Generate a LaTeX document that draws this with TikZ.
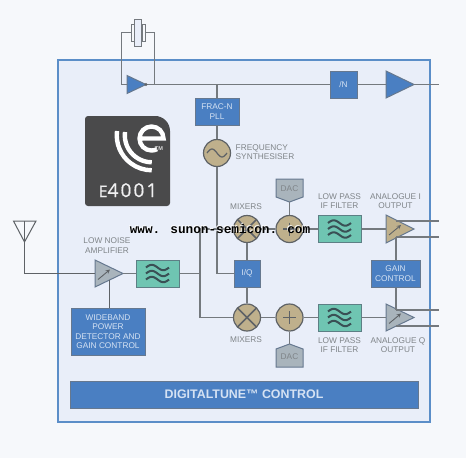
\documentclass[tikz,border=0pt]{standalone}
\usepackage{fontspec}
\setmainfont{Liberation Sans}
\newfontfamily\logofont[LetterSpace=11,FakeBold=0.6]{Open Sans}
\newfontfamily\markfont{Liberation Mono}
\usetikzlibrary{calc}
\definecolor{pagebg}{HTML}{F6F8FB}
\definecolor{panelbg}{HTML}{E9EEF9}
\definecolor{panelline}{HTML}{5B8EC8}
\definecolor{bluebox}{HTML}{4A7FC2}
\definecolor{boxedge}{HTML}{66788F}
\definecolor{boxtext}{HTML}{D5E2F3}
\definecolor{tealbox}{HTML}{6FC5B2}
\definecolor{tealedge}{HTML}{5D7F85}
\definecolor{tan}{HTML}{BFB08C}
\definecolor{grayamp}{HTML}{A9B4BC}
\definecolor{wire}{HTML}{74797E}
\definecolor{wiredark}{HTML}{5E6266}
\definecolor{inkdark}{HTML}{3A5055}
\definecolor{labelgray}{HTML}{7F8488}
\definecolor{logobg}{HTML}{4A4A4B}
\tikzset{
  x=1pt,y=-1pt,
  conn/.style={draw=wire,line width=1.2pt},
  slimconn/.style={draw=wire,line width=1.1pt},
  thinconn/.style={draw=wiredark,line width=1pt},
  bluenode/.style={draw=boxedge,line width=1pt,fill=bluebox,text=boxtext,inner sep=0pt,align=center,
    font=\fontsize{8.3}{9.5}\selectfont},
  tealnode/.style={draw=tealedge,line width=1pt,fill=tealbox,minimum width=43pt,minimum height=27pt,inner sep=0pt},
  roundnode/.style={circle,draw=wiredark,line width=1.2pt,fill=tan,minimum size=27pt,inner sep=0pt},
  lab/.style={text=labelgray,inner sep=0pt,align=center,font=\fontsize{8.3}{9.5}\selectfont},
  edgeline/.style={draw=boxedge,line width=1pt},
  inkline/.style={draw=wiredark,line width=1.5pt},
  wave/.style={draw=inkdark,line width=2pt},
  logoline/.style={draw=white,line width=4.4pt},
  pics/amp/.style n args={4}{code={
    \draw[edgeline,fill=#1] (0,-#2) -- (0,#2) -- (#3,0) -- cycle;
    \coordinate (-in) at (0,0);
    \coordinate (-out) at (#3,0);
    #4
  }},
  pics/waves/.style={code={
    \foreach \dy in {-6,0,6}
      \draw[wave] plot[domain=-11.5:11.5,samples=25,smooth] (\x,{\dy-2.7*sin(15.6*(\x+11.5))});
  }},
  pics/gainmark/.style={code={
    \draw[wiredark,line width=.9pt,-stealth] (3,6) -- (15,-4);
  }}
}
\begin{document}
\begin{tikzpicture}
\useasboundingbox (0,0) rectangle (466,458);
\fill[pagebg] (0,0) rectangle (466,458);
\draw[draw=panelline,fill=panelbg,line width=2pt] (58,60) rectangle (430,422);

% routing points
\coordinate (xtop) at (121.5,32.5);
\coordinate (xbot) at (121.5,84.5);
\coordinate (ytop) at (154.5,32.5);
\coordinate (ybot) at (154.5,84.5);
\coordinate (pllt) at (217,84.5);
\coordinate (endtop) at (439,84.5);
\coordinate (splitu) at (200,229);
\coordinate (splitm) at (200,273.5);
\coordinate (splitl) at (200,317.5);
\coordinate (iqcorner) at (217,273.5);
\coordinate (ant) at (24.5,221);
\coordinate (anttip) at (24.5,242);
\coordinate (antl) at (13.5,221);
\coordinate (antr) at (36,221);
\coordinate (antb) at (24.5,273.5);
\coordinate (lnab) at (109,280);
\coordinate (iup) at (396,221);
\coordinate (idn) at (396,237);
\coordinate (qup) at (396,310);
\coordinate (qdn) at (396,326);
\coordinate (iup2) at (439,221);
\coordinate (idn2) at (439,237);
\coordinate (qup2) at (439,310);
\coordinate (qdn2) at (439,326);

% crystal
\node[draw=wire,fill=panelbg,line width=1pt,minimum width=7.5pt,minimum height=27pt,inner sep=0pt] (xtal) at (138,32.5) {};
\node[draw=wire,fill=pagebg,line width=1pt,minimum width=3pt,minimum height=17pt,inner sep=0pt] (xtalL) at (132.5,32.5) {};
\node[draw=wire,fill=pagebg,line width=1pt,minimum width=3pt,minimum height=17pt,inner sep=0pt] (xtalR) at (144,32.5) {};

% blocks
\node[bluenode,minimum width=44pt,minimum height=27pt] (pll) at (217,111.5) {FRAC-N\\PLL};
\node[bluenode,minimum width=27pt,minimum height=27pt] (div) at (343.5,84.5) {/N};
\node[bluenode,minimum width=26pt,minimum height=27pt] (iq) at (247,273.5) {I/Q};
\node[bluenode,minimum width=49pt,minimum height=27pt] (gain) at (395.5,273.5) {GAIN\\CONTROL};
\node[bluenode,minimum width=74pt,minimum height=47pt] (wide) at (108,331.5) {WIDEBAND\\POWER\\DETECTOR AND\\GAIN CONTROL};
\node[bluenode,minimum width=348pt,minimum height=27pt,font=\bfseries\fontsize{12.4}{14}\selectfont,text=boxtext] (dt) at (244,394.5) {DIGITALTUNE™ CONTROL};

\node[tealnode] (f1) at (157.5,273.5) {};
\node[tealnode] (fi) at (339.5,229) {};
\node[tealnode] (fq) at (339.5,317.5) {};
\node[roundnode] (osc) at (217,153) {};
\node[roundnode] (mi) at (247,229) {};
\node[roundnode] (ai) at (289.5,229) {};
\node[roundnode] (mq) at (247,317.5) {};
\node[roundnode] (aq) at (289.5,317.5) {};

% DAC tags
\draw[edgeline,fill=grayamp] (276,179) -- (303,179) -- (303,197) -- (289.5,202) -- (276,197) -- cycle;
\node[text=labelgray,inner sep=0pt,font=\fontsize{8.3}{9.5}\selectfont] (dacu) at (289.5,189) {DAC};
\coordinate (dacu-tip) at (289.5,202);
\draw[edgeline,fill=grayamp] (276,367) -- (303,367) -- (303,349) -- (289.5,344) -- (276,349) -- cycle;
\node[text=labelgray,inner sep=0pt,font=\fontsize{8.3}{9.5}\selectfont] (dacl) at (289.5,357) {DAC};
\coordinate (dacl-tip) at (289.5,344);

% amplifiers
\pic (buf) at (127,84.5) {amp={bluebox}{9}{19}{}};
\pic (outbuf) at (386,84.5) {amp={bluebox}{13.5}{28}{}};
\pic (lna) at (95,273.5) {amp={grayamp}{13.5}{28}{\pic at (0,0) {gainmark};}};
\pic (ampi) at (386,229) {amp={tan}{14}{28}{\pic at (0,0) {gainmark};}};
\pic (ampq) at (386,317.5) {amp={grayamp}{13.5}{28}{\pic at (0,0) {gainmark};}};

% connectors
\draw[slimconn] (xtalL.west |- xtop) -- (xtop) -- (xbot) -- (buf-in);
\draw[slimconn] (xtalR.east |- ytop) -- (ytop) -- (ybot);
\draw[conn] (buf-out) -- (div.west);
\draw[conn] (div.east) -- (outbuf-in);
\draw[conn] (outbuf-out) -- (endtop);
\fill[wiredark] (buf-out) circle (1.6);
\draw[conn] (pllt) -- (pll.north);
\draw[conn] (pll.south) -- (osc.north);
\draw[conn] (osc.south) -- (iqcorner) -- (iq.west);
\draw[conn] (iq.north) -- (mi.south);
\draw[conn] (iq.south) -- (mq.north);
\draw[thinconn] (antb) -- (lna-in);
\draw[thinconn] (ant) -- (antb);
\draw[thinconn] (antl) -- (antr) -- (anttip) -- cycle;
\draw[thinconn] (lnab) -- (wide.north -| lnab);
\draw[slimconn] (lna-out) -- (f1.west);
\draw[slimconn] (f1.east) -- (splitm);
\draw[conn] (splitu) -- (splitl) -- (mq.west);
\draw[conn] (splitu) -- (mi.west);
\draw[conn] (mi.east) -- (ai.west);
\draw[conn] (mq.east) -- (aq.west);
\draw[conn] (ai.east) -- (fi.west);
\draw[conn] (aq.east) -- (fq.west);
\draw[conn] (fi.east) -- (ampi-in);
\draw[conn] (fq.east) -- (ampq-in);
\draw[conn] (dacu-tip) -- (ai.north);
\draw[conn] (dacl-tip) -- (aq.south);
\draw[conn] (iup) -- (iup2);
\draw[conn] (idn) -- (idn2);
\draw[conn] (qup) -- (qup2);
\draw[conn] (qdn) -- (qdn2);
\draw[conn] (idn) -- (gain.north -| idn);
\draw[conn] (gain.south -| qup) -- (qup);

% symbols in blocks
\pic at (157.5,273.5) {waves};
\pic at (339.5,229) {waves};
\pic at (339.5,317.5) {waves};
\draw[draw=wiredark,line width=1.2pt] plot[domain=-10:10,samples=25,smooth] ({217+\x},{153-4*sin(18*(\x+10))});
\draw[inkline] ($(mi)+(-9.5,-9.5)$) -- ($(mi)+(9.5,9.5)$) ($(mi)+(-9.5,9.5)$) -- ($(mi)+(9.5,-9.5)$);
\draw[inkline] ($(mq)+(-9.5,-9.5)$) -- ($(mq)+(9.5,9.5)$) ($(mq)+(-9.5,9.5)$) -- ($(mq)+(9.5,-9.5)$);
\draw[inkline] ($(ai)+(-6.5,0)$) -- ($(ai)+(6.5,0)$) ($(ai)+(0,-6.5)$) -- ($(ai)+(0,6.5)$);
\draw[inkline] ($(aq)+(-6.5,0)$) -- ($(aq)+(6.5,0)$) ($(aq)+(0,-6.5)$) -- ($(aq)+(0,6.5)$);

% labels
\node[lab] (lnalab) at (107,245.5) {LOW NOISE\\AMPLIFIER};
\node[lab,align=left,anchor=west] (synlab) at (235.5,152) {FREQUENCY\\SYNTHESISER};
\node[lab] (mixu) at (246,207) {MIXERS};
\node[lab] (mixl) at (246,340) {MIXERS};
\node[lab] (lpu) at (339.5,201) {LOW PASS\\IF FILTER};
\node[lab] (lpl) at (339.5,345) {LOW PASS\\IF FILTER};
\node[lab] (anau) at (395.5,201) {ANALOGUE I\\OUTPUT};
\node[lab] (anal) at (398,345) {ANALOGUE Q\\OUTPUT};

% logo
\fill[logobg,rounded corners=3pt] (85,206) -- (85,116) -- (155,116) [rounded corners=15pt] -- (170,116) [rounded corners=3pt] -- (170,206) -- cycle;
\draw[logoline] (140,138.5) -- (163.5,138.5) arc[start angle=0,end angle=-180,radius=12] arc[start angle=180,end angle=62,radius=12];
\draw[logoline] (125,132) arc[start angle=187,end angle=90,radius=27];
\draw[logoline] (117,131) arc[start angle=187,end angle=90,radius=35];
\node[text=white!80!logobg,inner sep=0pt,font=\bfseries\fontsize{5.6}{6}\selectfont] (tm) at (159,149) {TM};
\node[text=white!92!logobg,inner sep=0pt,anchor=base] (logotext) at (128,197) {\logofont\fontsize{16}{18}\selectfont E\fontsize{19}{20}\selectfont 4001};

% watermark
\node[text=white,inner sep=0pt,font=\markfont\bfseries\fontsize{12.7}{15}\selectfont] (mark2) at (219.3,228.3) {www. sunon-semicon. com};
\node[text=black,inner sep=0pt,font=\markfont\bfseries\fontsize{12.7}{15}\selectfont] (mark) at (220,229) {www. sunon-semicon. com};
\end{tikzpicture}
\end{document}
